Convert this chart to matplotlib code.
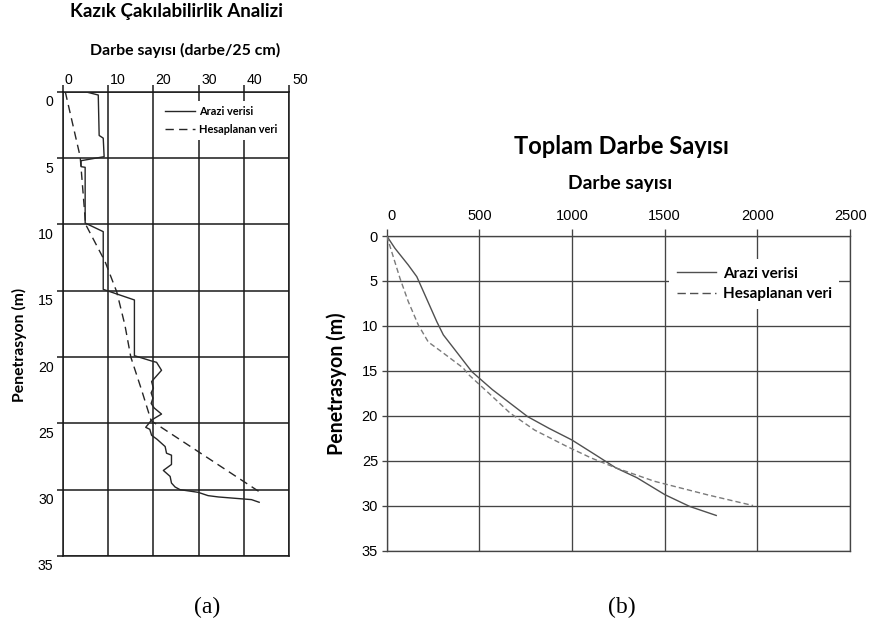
import matplotlib
matplotlib.use("Agg")
import matplotlib.pyplot as plt
from matplotlib.transforms import ScaledTranslation
from matplotlib.lines import Line2D

# ---------------- data ----------------
# (a) blow count per 25 cm vs penetration
a_field_depth = [0, 0.25, 3.3, 3.5, 4.9, 5.2, 5.65, 5.7, 9.9, 10.55, 14.9, 15.7,
                 19.9, 20.3, 20.4, 21.0, 21.85, 22.35, 22.7, 23.1, 23.5, 23.85,
                 24.3, 24.75, 25.3, 25.45, 25.9, 26.2, 26.75, 27.25, 27.4, 28.1,
                 28.55, 29.0, 29.5, 29.8, 30.0, 30.2, 30.45, 30.55, 30.75, 30.95]
a_field_blows = [4.9, 7.8, 8.0, 8.9, 9.1, 4.0, 4.0, 4.9, 4.9, 8.9, 8.9, 15.8,
                 15.8, 19.6, 20.7, 21.8, 19.6, 20.0, 19.5, 19.9, 19.5, 20.2,
                 21.8, 19.6, 18.3, 19.2, 19.6, 20.8, 22.6, 22.9, 24.0, 24.0,
                 22.2, 23.7, 24.0, 24.8, 25.9, 29.9, 32.1, 34.4, 41.7, 43.4]
a_calc_depth = [0, 4.9, 10.0, 12.8, 15.1, 17.6, 20.0, 22.5, 24.8, 30.15]
a_calc_blows = [0.5, 3.8, 5.0, 9.3, 11.9, 13.7, 15.0, 17.4, 19.5, 43.4]
a_xticks = [0, 10, 20, 30, 40, 50]
a_yticks = [0, 5, 10, 15, 20, 25, 30, 35]

# (b) total blow count vs penetration
b_field_depth = [0, 1.37, 3.23, 4.53, 6.57, 9.54, 11.0, 12.7, 15.1, 17.1, 18.6,
                 20.1, 21.4, 22.7, 24.3, 25.8, 26.9, 28.8, 30.1, 31.1]
b_field_total = [0, 44, 116, 162, 206, 270, 305, 369, 459, 570, 665,
                 760, 875, 999, 1122, 1236, 1350, 1502, 1635, 1778]
b_calc_depth = [0, 4.7, 7.3, 9.9, 11.8, 12.9, 14.7, 15.4, 17.5, 19.7, 21.6,
                23.4, 24.7, 25.8, 27.3, 28.8, 30.0]
b_calc_total = [0, 71, 116, 170, 224, 297, 413, 440, 551, 665, 798,
                970, 1103, 1236, 1445, 1730, 1977]
b_xticks = [0, 500, 1000, 1500, 2000, 2500]
b_yticks = [0, 5, 10, 15, 20, 25, 30, 35]

labels = ["Arazi verisi", "Hesaplanan veri"]

# ---------------- figure ----------------
W, H = 869, 626
plt.rcParams["lines.scale_dashes"] = False
fig = plt.figure(figsize=(W / 100, H / 100), dpi=100)
fig.patch.set_facecolor("white")
renderer = fig.canvas.get_renderer()

HEAD = dict(family=["Lato", "DejaVu Sans"], weight="bold")
TICK = ["Liberation Sans", "DejaVu Sans"]


def px_x(x):
    return x / W


def px_y(y):
    return 1 - y / H


def text_w(s, size, **kw):
    t = fig.text(0, 0, s, fontsize=size, **kw)
    w = t.get_window_extent(renderer=renderer).width
    t.remove()
    return w


def fit_text(xc, yc, s, length, rotation=0, **kw):
    t = fig.text(px_x(xc), px_y(yc), s, ha="center", va="center",
                 rotation=rotation, fontsize=10, **kw)
    bb = t.get_window_extent(renderer=renderer)
    cur = bb.height if rotation == 90 else bb.width
    t.set_fontsize(10 * length / cur)
    return t


def axes_px(left, top, right, bottom):
    return fig.add_axes([px_x(left), px_y(bottom), (right - left) / W, (bottom - top) / H])


# ---------- panel (a) ----------
axa = axes_px(63, 91.7, 289, 556)
ca = "#1a1a1a"
axa.plot(a_field_blows, a_field_depth, color="#262626", lw=1.0, zorder=3)
axa.plot(a_calc_blows, a_calc_depth, color="#262626", lw=1.0,
         dashes=(6, 3.8), zorder=3)
axa.set_xlim(0, 50)
axa.set_ylim(35, 0)
axa.set_xticks(a_xticks)
axa.set_yticks(a_yticks)
axa.xaxis.tick_top()
axa.grid(True, color=ca, lw=1.1)
for s in axa.spines.values():
    s.set_color(ca)
    s.set_linewidth(1.1)
axa.tick_params(axis="x", direction="out", length=4.8, width=1.1, color=ca,
                pad=-1.5, labelsize=10.2)
axa.tick_params(axis="y", direction="out", length=4.3, width=1.1, color=ca,
                pad=2.5, labelsize=10.2)
for lab in axa.get_xticklabels() + axa.get_yticklabels():
    lab.set_family(TICK)
for lab, dx in zip(axa.get_xticklabels(), [5.5, 9.5, 10, 10.5, 11, 11]):
    lab.set_transform(lab.get_transform() + ScaledTranslation(dx / 100, 0, fig.dpi_scale_trans))
for lab in axa.get_yticklabels():
    lab.set_transform(lab.get_transform() + ScaledTranslation(0, -9 / 100, fig.dpi_scale_trans))

fit_text(176, 12, "Kazık Çakılabilirlik Analizi", 213, **HEAD)
fit_text(185, 50, "Darbe sayısı (darbe/25 cm)", 190, **HEAD)
fit_text(19, 345, "Penetrasyon (m)", 114, rotation=90, **HEAD)
fig.text(px_x(207), px_y(607), "(a)", ha="center", va="center", fontsize=17,
         family=["Liberation Serif", "DejaVu Serif"])

fs_a = 10 * 79 / text_w("Hesaplanan veri", 10, **HEAD)
fpx_a = fs_a * 100 / 72
h_a = [Line2D([], [], color="#262626", lw=1.0),
       Line2D([], [], color="#262626", lw=1.0, dashes=(6, 3.8))]
leg_a = axa.legend(h_a, labels, loc="upper left",
                   bbox_to_anchor=(px_x(160), px_y(101)), bbox_transform=fig.transFigure,
                   prop=dict(family=HEAD["family"], weight="bold", size=fs_a),
                   frameon=True, fancybox=False, facecolor="white", edgecolor="none",
                   framealpha=1, borderpad=0.45, borderaxespad=0,
                   handlelength=30 / fpx_a, handletextpad=4 / fpx_a,
                   labelspacing=0.65)
leg_a.set_zorder(10)

# ---------- panel (b) ----------
axb = axes_px(386.8, 236, 850, 550.5)
cb = "#444444"
axb.plot(b_field_total, b_field_depth, color="#505050", lw=1.0, zorder=3)
axb.plot(b_calc_total, b_calc_depth, color="#7a7a7a", lw=1.0,
         dashes=(3.8, 2.2), zorder=3)
axb.set_xlim(0, 2500)
axb.set_ylim(35, 0)
axb.set_xticks(b_xticks)
axb.set_yticks(b_yticks)
axb.xaxis.tick_top()
axb.grid(True, color=cb, lw=0.95)
for s in axb.spines.values():
    s.set_color(cb)
    s.set_linewidth(0.95)
axb.tick_params(axis="x", direction="out", length=5, width=0.95, color=cb,
                pad=4.3, labelsize=10.5)
axb.tick_params(axis="y", direction="out", length=3.7, width=0.95, color=cb,
                pad=2.6, labelsize=10.5)
for lab in axb.get_xticklabels() + axb.get_yticklabels():
    lab.set_family(TICK)
for lab, dx in zip(axb.get_xticklabels(), [5, 0, 0, 0, 0, 1]):
    lab.set_transform(lab.get_transform() + ScaledTranslation(dx / 100, 0, fig.dpi_scale_trans))

fit_text(621, 147, "Toplam Darbe Sayısı", 215, **HEAD)
fit_text(620, 183, "Darbe sayısı", 104, **HEAD)
fit_text(337, 384, "Penetrasyon (m)", 142, rotation=90, **HEAD)
fig.text(px_x(622), px_y(607), "(b)", ha="center", va="center", fontsize=17,
         family=["Liberation Serif", "DejaVu Serif"])

fs_b = 10 * 109 / text_w("Hesaplanan veri", 10, **HEAD)
fpx_b = fs_b * 100 / 72
h_b = [Line2D([], [], color="#505050", lw=1.0),
       Line2D([], [], color="#505050", lw=1.0, dashes=(6, 3))]
leg_b = axb.legend(h_b, labels, loc="upper left",
                   bbox_to_anchor=(px_x(669), px_y(259)), bbox_transform=fig.transFigure,
                   prop=dict(family=HEAD["family"], weight="bold", size=fs_b),
                   frameon=True, fancybox=False, facecolor="white", edgecolor="none",
                   framealpha=1, borderpad=0.5, borderaxespad=0,
                   handlelength=39 / fpx_b, handletextpad=7 / fpx_b,
                   labelspacing=0.45)
leg_b.set_zorder(10)

fig.savefig("out.png", dpi=100, facecolor="white")
